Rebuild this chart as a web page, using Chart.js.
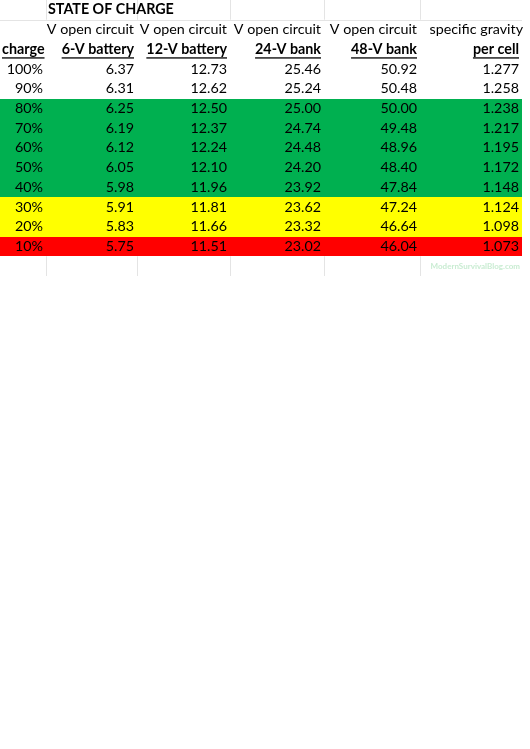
<!DOCTYPE html>
<html><head><meta charset="utf-8">
<script src="https://cdn.jsdelivr.net/npm/chart.js@4"></script>
<style>html,body{margin:0;padding:0;background:#fff}#w{width:530px;height:749px}</style>
</head><body><div id="w"><canvas id="c"></canvas></div>
<script>
const charge = ['100%','90%','80%','70%','60%','50%','40%','30%','20%','10%'];
const v6 = ['6.37','6.31','6.25','6.19','6.12','6.05','5.98','5.91','5.83','5.75'];
const v12 = ['12.73','12.62','12.50','12.37','12.24','12.10','11.96','11.81','11.66','11.51'];
const v24 = ['25.46','25.24','25.00','24.74','24.48','24.20','23.92','23.62','23.32','23.02'];
const v48 = ['50.92','50.48','50.00','49.48','48.96','48.40','47.84','47.24','46.64','46.04'];
const gravity = ['1.277','1.258','1.238','1.217','1.195','1.172','1.148','1.124','1.098','1.073'];
const headerTop = ['', 'V open circuit','V open circuit','V open circuit','V open circuit','specific gravity'];
const headerBottom = ['charge','6-V battery','12-V battery','24-V bank','48-V bank','per cell'];
const title = 'STATE OF CHARGE';
const rowBand = ['none','none','green','green','green','green','green','yellow','yellow','red'];
const bandColors = {none:null, green:'#00b050', yellow:'#ffff00', red:'#ff0000'};
const watermark = 'ModernSurvivalBlog.com';

const colEdges = [0, 46, 137, 230, 324, 420, 522];
const columns = [charge, v6, v12, v24, v48, gravity];
const FONT = 'Lato, "Open Sans", sans-serif';
const FS = '14.3px ';

const tablePlugin = {
  id: 'table',
  afterDatasetsDraw(chart) {
    const ctx = chart.ctx, xs = chart.scales.x, ys = chart.scales.y;
    const X = v => xs.getPixelForValue(v), Y = v => ys.getPixelForValue(v);
    ctx.save();
    ctx.strokeStyle = '#e4e4e4'; ctx.lineWidth = 1;
    for (let i = 1; i < colEdges.length - 1; i++) {
      const x = Math.round(X(colEdges[i])) + 0.5;
      ctx.beginPath(); ctx.moveTo(x, Y(0)); ctx.lineTo(x, Y(1)); ctx.stroke();
      ctx.beginPath(); ctx.moveTo(x, Y(13)); ctx.lineTo(x, Y(14)); ctx.stroke();
    }
    ctx.beginPath(); ctx.moveTo(X(0), Math.round(Y(1)) + 0.5); ctx.lineTo(X(colEdges[6]), Math.round(Y(1)) + 0.5); ctx.stroke();
    // bands, pixel-rounded so adjacent rows have no seams
    rowBand.forEach((b, r) => {
      const c = bandColors[b]; if (!c) return;
      ctx.fillStyle = c;
      const y0 = Math.round(Y(3 + r)), y1 = Math.round(Y(4 + r));
      ctx.fillRect(Math.round(X(0)), y0, Math.round(X(colEdges[6])) - Math.round(X(0)), y1 - y0);
    });
    ctx.textBaseline = 'middle';
    ctx.fillStyle = '#000';
    ctx.font = 'bold ' + FS + FONT; ctx.textAlign = 'left';
    ctx.fillText(title, X(colEdges[1]) + 2, Y(0.5));
    const pad = 3;
    for (let c = 0; c < 6; c++) {
      const right = X(colEdges[c + 1]) - pad;
      ctx.font = FS + FONT; ctx.textAlign = 'right';
      if (headerTop[c]) ctx.fillText(headerTop[c], c === 5 ? X(colEdges[6]) + 1 : right, Y(1.5));
      ctx.font = 'bold ' + FS + FONT;
      const t = headerBottom[c];
      let xr, align;
      if (c === 0) { align = 'left'; xr = X(0) + 2; } else { align = 'right'; xr = right; }
      ctx.textAlign = align;
      ctx.fillText(t, xr, Y(2.5));
      const w = ctx.measureText(t).width;
      const x0 = align === 'left' ? xr : xr - w;
      ctx.fillRect(x0, Y(2.5) + 8, w, 1.3);
    }
    ctx.font = FS + FONT; ctx.textAlign = 'right';
    columns.forEach((col, c) => {
      col.forEach((v, r) => {
        ctx.fillText(v, X(colEdges[c + 1]) - pad, Y(3.5 + r));
      });
    });
    ctx.font = 'bold 8px ' + FONT; ctx.fillStyle = '#c9ecd2';
    ctx.fillText(watermark, X(colEdges[6]) - 2, Y(13.5));
    ctx.restore();
  }
};

new Chart(document.getElementById('c'), {
  type: 'scatter',
  data: { datasets: [{ data: [], showLine: false }] },
  options: {
    responsive: true, maintainAspectRatio: false, animation: false,
    layout: { padding: { left: 0, right: 8, top: 0, bottom: 749 - 276 } },
    plugins: { legend: { display: false }, tooltip: { enabled: false } },
    scales: {
      x: { type: 'linear', min: 0, max: 522, display: false },
      y: { type: 'linear', min: 0, max: 14, reverse: true, display: false }
    }
  },
  plugins: [tablePlugin]
});
</script></body></html>
